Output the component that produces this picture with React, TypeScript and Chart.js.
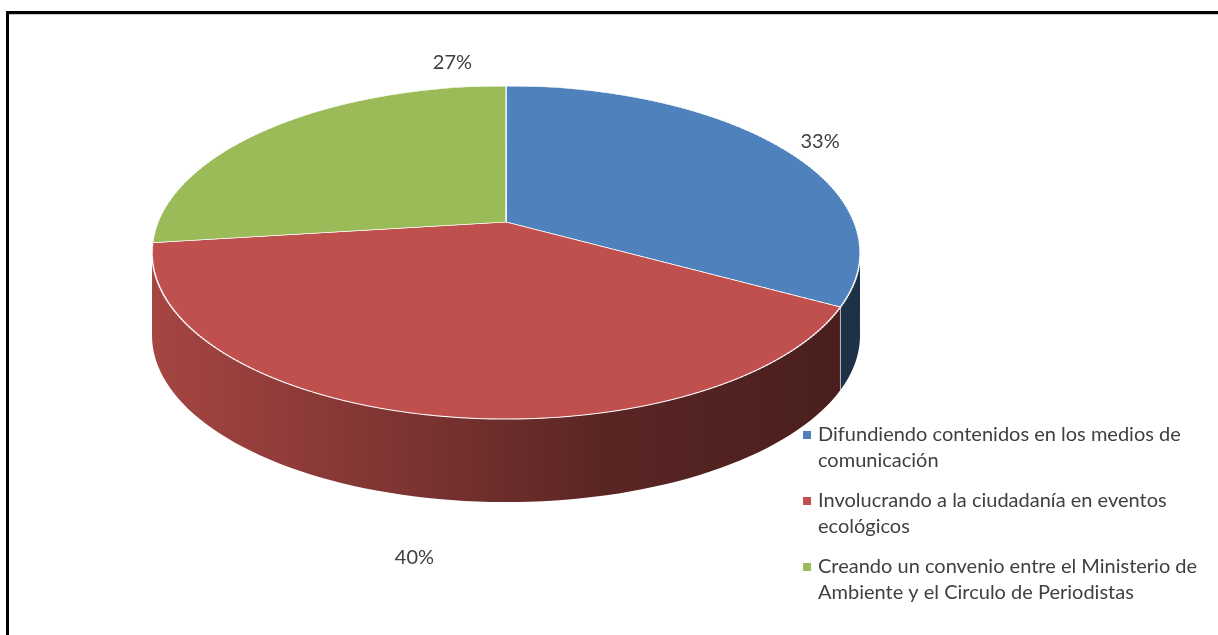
import React, { useEffect, useRef } from 'react';
import Chart from 'chart.js/auto';

// ---- data ----
const categories = [
  'Difundiendo contenidos en los medios de comunicación',
  'Involucrando a la ciudadanía en eventos ecológicos',
  'Creando un convenio entre el Ministerio de Ambiente y el Circulo de Periodistas',
];
const values = [33, 40, 27];
const valueLabels = ['33%', '40%', '27%'];
const sliceColors = ['#4F81BD', '#C0504D', '#9BBB59'];

// ---- layout / style constants ----
const W = 1218;
const H = 635;
const CX = 506; // projected centre x
const CY0 = 222; // projected centre y
const S = 348; // horizontal scale
const B = 161; // vertical scale
const K = 0.183; // perspective strength
const DEPTH = 83;
const R0 = 200;
const TEXT_COLOR = '#404040';
const FONT = '20px Lato, "Open Sans", sans-serif';
const LABEL_FACTOR = 1.15;
const LABEL_NUDGE: [number, number][] = [
  [3, 5],
  [3, 23],
  [210, -52],
];
const LEGEND_X = 818;
const LEGEND_Y = 435;
const LEGEND_LINE = 26;
const LEGEND_GAP = 40;
const LEGEND_WRAP = 392;

function proj(u: number, v: number): [number, number] {
  const d = 1 - K * v;
  return [CX + (S * u) / d, CY0 + (B * v) / d];
}

function shade(hex: string, f: number) {
  const n = parseInt(hex.slice(1), 16);
  const r = Math.round(((n >> 16) & 255) * f);
  const g = Math.round(((n >> 8) & 255) * f);
  const b = Math.round((n & 255) * f);
  return `rgb(${r},${g},${b})`;
}

function wrap(ctx: CanvasRenderingContext2D, text: string, maxW: number) {
  const words = text.split(' ');
  const lines: string[] = [];
  let cur = '';
  for (const w of words) {
    const test = cur ? cur + ' ' + w : w;
    if (ctx.measureText(test).width > maxW && cur) {
      lines.push(cur);
      cur = w;
    } else cur = test;
  }
  if (cur) lines.push(cur);
  return lines;
}

const pie3d = {
  id: 'pie3d',
  beforeDraw(chart: any) {
    const ctx = chart.ctx as CanvasRenderingContext2D;
    ctx.save();
    ctx.fillStyle = '#ffffff';
    ctx.fillRect(0, 0, W, H);
    ctx.fillStyle = '#c8c8c8';
    ctx.fillRect(9, 14, W - 9, 1);
    ctx.fillStyle = '#000000';
    ctx.fillRect(6, 11, W - 6, 3);
    ctx.fillRect(6, 11, 3, H - 11);
    ctx.restore();
  },
  beforeDatasetsDraw(chart: any) {
    const ctx = chart.ctx as CanvasRenderingContext2D;
    const arcs = chart.getDatasetMeta(0).data as any[];
    if (!arcs.length) return false;
    const cx = arcs[0].x;
    const cy = arcs[0].y;
    const r = arcs[0].outerRadius;
    const phiMin = Math.asin(K);
    const phiMax = Math.PI - phiMin;
    const [gx0] = proj(-1 / Math.sqrt(1 - K * K), K);
    const [gx1] = proj(1 / Math.sqrt(1 - K * K), K);

    // side walls
    ctx.save();
    arcs.forEach((a: any, i: number) => {
      const s = Math.max(a.startAngle, phiMin);
      const e = Math.min(a.endAngle, phiMax);
      if (e <= s) return;
      const base = sliceColors[i];
      const g = ctx.createLinearGradient(gx0, 0, gx1, 0);
      g.addColorStop(0, shade(base, 0.87));
      g.addColorStop(0.38, shade(base, 0.64));
      g.addColorStop(0.63, shade(base, 0.47));
      g.addColorStop(1, shade(base, 0.37));
      const N = 80;
      const pts: [number, number][] = [];
      for (let k = 0; k <= N; k++) {
        const p = s + ((e - s) * k) / N;
        pts.push(proj(Math.cos(p), Math.sin(p)));
      }
      ctx.beginPath();
      pts.forEach(([x, y], k) => (k ? ctx.lineTo(x, y) : ctx.moveTo(x, y)));
      for (let k = N; k >= 0; k--) ctx.lineTo(pts[k][0], pts[k][1] + DEPTH);
      ctx.closePath();
      ctx.fillStyle = g;
      ctx.fill();
    });
    ctx.strokeStyle = 'rgba(255,255,255,0.55)';
    ctx.lineWidth = 1;
    arcs.forEach((a: any) => {
      const ang = a.endAngle;
      if (ang > phiMin && ang < phiMax) {
        const [x, y] = proj(Math.cos(ang), Math.sin(ang));
        ctx.beginPath();
        ctx.moveTo(x, y);
        ctx.lineTo(x, y + DEPTH);
        ctx.stroke();
      }
    });
    ctx.restore();

    // top face: draw the chart's arcs in thin horizontal bands, each with a local perspective transform
    const yTop = Math.floor(CY0 - B / (1 + K)) - 2;
    const yBot = Math.ceil(CY0 + B / (1 - K)) + 2;
    const step = 2;
    for (let y0 = yTop; y0 < yBot; y0 += step) {
      const yc = y0 + step / 2;
      const t = yc - CY0;
      const v0 = t / (B + K * t);
      const d = 1 - K * v0;
      const sx = S / d;
      const sy = B / (d * d);
      ctx.save();
      ctx.beginPath();
      ctx.rect(0, y0, W, step);
      ctx.clip();
      ctx.translate(CX, yc - sy * v0);
      ctx.scale(sx / r, sy / r);
      ctx.translate(-cx, -cy);
      arcs.forEach((a: any) => a.draw(ctx));
      ctx.restore();
    }
    return false;
  },
  afterDraw(chart: any) {
    const ctx = chart.ctx as CanvasRenderingContext2D;
    const arcs = chart.getDatasetMeta(0).data as any[];
    if (!arcs.length) return;
    ctx.save();
    ctx.font = FONT;
    ctx.fillStyle = TEXT_COLOR;
    ctx.textAlign = 'center';
    ctx.textBaseline = 'middle';
    arcs.forEach((a: any, i: number) => {
      const mid = (a.startAngle + a.endAngle) / 2;
      const sn = Math.sin(mid);
      let [x, y] = proj(LABEL_FACTOR * Math.cos(mid), LABEL_FACTOR * sn);
      if (sn > 0) y += DEPTH;
      x += LABEL_NUDGE[i][0];
      y += LABEL_NUDGE[i][1];
      ctx.fillText(valueLabels[i], x, y);
    });
    ctx.textAlign = 'left';
    let y = LEGEND_Y;
    categories.forEach((c, i) => {
      const lines = wrap(ctx, c, LEGEND_WRAP);
      ctx.fillStyle = sliceColors[i];
      ctx.fillRect(LEGEND_X - 15, y - 4, 8, 8);
      ctx.fillStyle = TEXT_COLOR;
      lines.forEach((ln, k) => {
        ctx.fillText(ln, LEGEND_X, y + k * LEGEND_LINE);
      });
      y += (lines.length - 1) * LEGEND_LINE + LEGEND_GAP;
    });
    ctx.restore();
  },
};

export default function App() {
  const ref = useRef<HTMLCanvasElement | null>(null);
  useEffect(() => {
    if (!ref.current) return;
    const chart = new Chart(ref.current, {
      type: 'pie',
      data: {
        labels: categories,
        datasets: [
          {
            data: values,
            backgroundColor: sliceColors,
            borderColor: '#ffffff',
            borderWidth: 0.8,
            clip: false as any,
          } as any,
        ],
      },
      options: {
        animation: false,
        responsive: false,
        devicePixelRatio: 1,
        events: [],
        layout: {
          padding: {
            left: CX - R0,
            right: W - (CX + R0),
            top: 252 - R0,
            bottom: H - (252 + R0),
          },
        },
        plugins: {
          legend: { display: false },
          tooltip: { enabled: false },
        },
      },
      plugins: [pie3d as any],
    });
    return () => chart.destroy();
  }, []);
  return (
    <div style={{ position: 'fixed', left: 0, top: 0, width: W, height: H, background: '#fff' }}>
      <canvas ref={ref} width={W} height={H} style={{ width: W, height: H, display: 'block' }} />
    </div>
  );
}
